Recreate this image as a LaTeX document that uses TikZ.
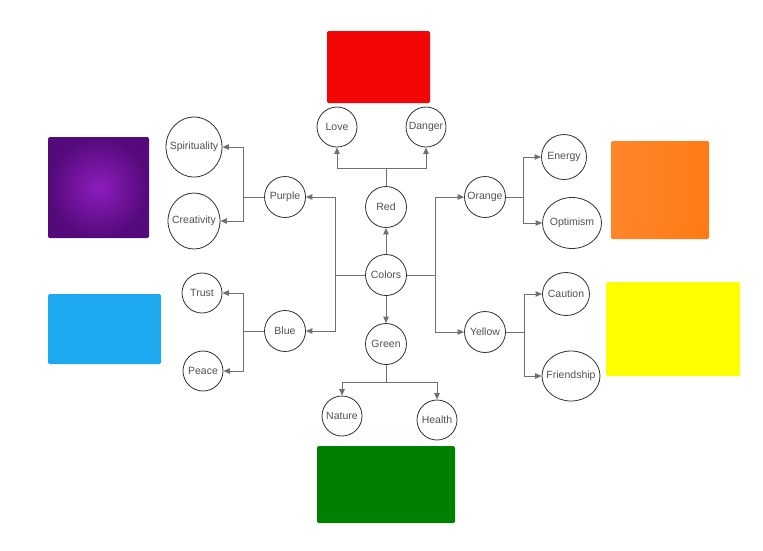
\documentclass[tikz,border=0pt]{standalone}
\usepackage{fontspec}
\setmainfont{Liberation Sans}
\usetikzlibrary{positioning,arrows.meta,shapes.geometric}
\definecolor{linegray}{RGB}{112,112,112}
\definecolor{ringgray}{RGB}{48,48,48}
\definecolor{textgray}{RGB}{80,80,80}
\definecolor{swred}{RGB}{242,6,6}
\definecolor{swgreen}{RGB}{0,128,0}
\definecolor{swyellow}{RGB}{255,255,0}
\definecolor{swblue}{RGB}{29,169,240}
\definecolor{purpin}{RGB}{142,28,190}
\definecolor{purpout}{RGB}{84,10,122}
\definecolor{orgl}{RGB}{255,134,40}
\definecolor{orgr}{RGB}{255,122,22}
\tikzset{
  bub/.style    = {circle, draw=ringgray, line width=0.8pt,
                   minimum size=41pt, inner sep=0pt,
                   text=textgray, font=\fontsize{10.5}{12}\selectfont},
  oval/.style   = {bub, ellipse, inner xsep=-8pt},
  swatch/.style = {rounded corners=1.5pt},
  link/.style   = {draw=linegray, line width=0.9pt},
  arr/.style    = {link, -{Triangle[length=6.5pt,width=5.5pt]}}
}
\begin{document}
\begin{tikzpicture}[x=1pt,y=-1pt]
        \useasboundingbox (0,0) rectangle (763,550);
        % colour swatches
        \fill[swatch,swred] (327,31) rectangle (430,103);
        \shade[swatch,inner color=purpin,outer color=purpout] (48,137) rectangle (149,238);
        \fill[swatch,swblue] (48,294) rectangle (161,364);
        \shade[swatch,left color=orgl,right color=orgr] (611,141) rectangle (709,239);
        \fill[swatch,swyellow] (606,282) rectangle (740,376);
        \fill[swatch,swgreen] (317,446) rectangle (455,523);
        % nodes
        \node[bub] (colors) at (386,275){Colors};
        \node[bub] (red) at (386,207){Red};
        \node[bub] (green) at (386,344){Green};
        \node[bub] (purple) at (285,197){Purple};
        \node[bub] (blue) at (285,331){Blue};
        \node[bub] (orange) at (485,197){Orange};
        \node[bub] (yellow) at (485,332){Yellow};
        \node[bub,minimum size=40pt] (love) at (337,127){Love};
        \node[bub,minimum size=40pt] (danger) at (426,127){Danger};
        \node[oval,minimum width=56pt,minimum height=60pt] (spirit) at (194,147){Spirituality};
        \node[oval,minimum width=52pt,minimum height=56pt] (creat) at (194,221){Creativity};
        \node[bub,minimum size=40pt] (trust) at (202,293){Trust};
        \node[bub,minimum size=40pt] (peace) at (203,371){Peace};
        \node[bub,minimum size=40pt] (nature) at (342,416){Nature};
        \node[bub,minimum size=40pt] (health) at (437,420){Health};
        \node[oval,minimum width=45pt,minimum height=45pt] (energy) at (564,157){Energy};
        \node[oval,minimum width=59pt,minimum height=51pt] (optim) at (572,223){Optimism};
        \node[oval,minimum width=47pt,minimum height=43pt] (caution) at (566,294){Caution};
        \node[oval,minimum width=58pt,minimum height=50pt] (friend) at (571,376){Friendship};
        % junctions
        \coordinate (lj) at (335,275);
        \coordinate (rj) at (435,275);
        \coordinate (redj) at (386,168);
        \coordinate (grnj) at (386,382);
        \coordinate (purj) at (243,197);
        \coordinate (bluj) at (243,331);
        \coordinate (orgj) at (523,197);
        \coordinate (yelj) at (524,332);
        % connectors
        \draw[arr](colors)--(red);
        \draw[arr](colors)--(green);
        \draw[link](colors)--(lj);
        \draw[link](colors)--(rj);
        \draw[arr](lj)|-(purple);
        \draw[arr](lj)|-(blue);
        \draw[arr](rj)|-(orange);
        \draw[arr](rj)|-(yellow);
        \draw[link](red)--(redj);
        \draw[arr](redj)-|(love);
        \draw[arr](redj)-|(danger);
        \draw[link](green)--(grnj);
        \draw[arr](grnj)-|(nature);
        \draw[arr](grnj)-|(health);
        \draw[link](purple)--(purj);
        \draw[arr](purj)|-(spirit);
        \draw[arr](purj)|-(creat);
        \draw[link](blue)--(bluj);
        \draw[arr](bluj)|-(trust);
        \draw[arr](bluj)|-(peace);
        \draw[link](orange)--(orgj);
        \draw[arr](orgj)|-(energy);
        \draw[arr](orgj)|-(optim);
        \draw[link](yellow)--(yelj);
        \draw[arr](yelj)|-(caution);
        \draw[arr](yelj)|-(friend);
      \end{tikzpicture}
\end{document}
